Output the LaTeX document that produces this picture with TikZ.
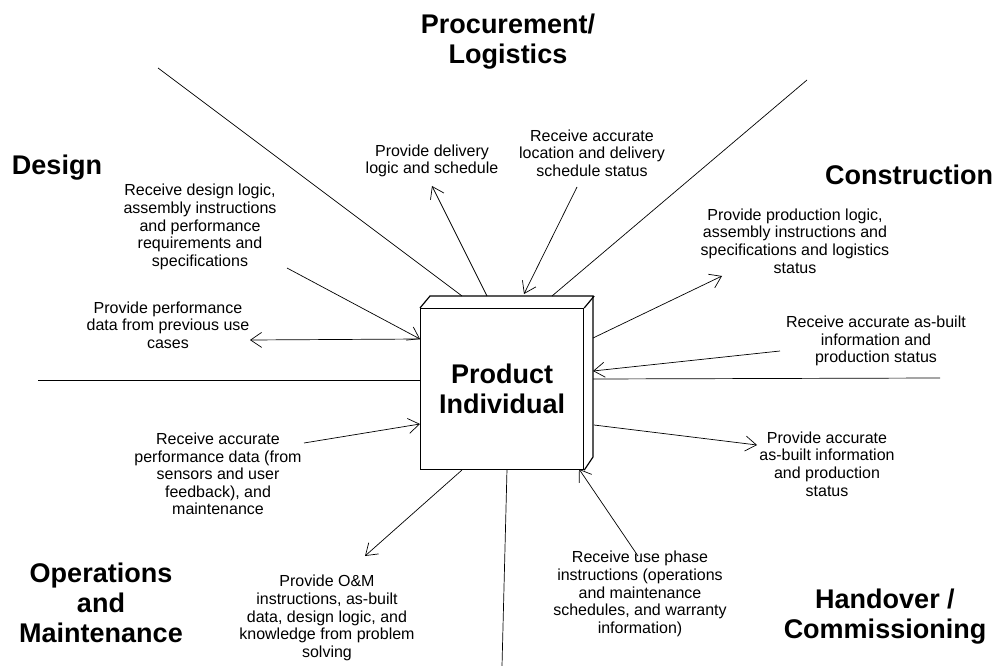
\documentclass[tikz,border=0pt]{standalone}
\usepackage{fontspec}
\setmainfont{Liberation Sans}
\usetikzlibrary{arrows.meta}

\tikzset{
	phase/.style={font=\bfseries\fontsize{27}{30}\selectfont, align=center, inner sep=0pt},
	info/.style={font=\fontsize{16}{17.6}\selectfont, align=center, inner sep=0pt},
	flow/.style={-{Straight Barb[length=11pt,width=15pt]}},
}

\begin{document}
\begin{tikzpicture}[x=1pt, y=-1pt, line width=0.7pt]
	\useasboundingbox (0,0) rectangle (999,666);

	%Trennlinien
	\draw (158,68) -- (462,296);
	\draw (807,80) -- (552,296);
	\draw (38,380) -- (420,380);
	\draw (593,379) -- (940,378);
	\draw (507,469) -- (502,666);

	%Produkt
	\node[phase, draw, line width=1.2pt, fill=white, minimum width=163pt, minimum height=161pt, anchor=north west] (prod) at (420,308) {Product\\Individual};
	\draw[line width=1.2pt] (prod.north west) -- ++(10,-12) -- ++(163,0) -- ++(0,161) -- (prod.south east);
	\draw[line width=1.2pt] (prod.north east) -- ++(10,-12);

	%Phasen
	\node[phase] (proc) at (508,42) {Procurement/\\Logistics};
	\node[phase] (des) at (57,168) {Design};
	\node[phase] (con) at (909,175) {Construction};
	\node[phase] (om) at (101,603) {Operations\\and\\Maintenance};
	\node[phase] (hand) at (885,617) {Handover /\\Commissioning};

	%Beschriftung
	\node[info] (delivery) at (432,161) {Provide delivery\\logic and schedule};
	\node[info] (location) at (592,153) {Receive accurate\\location and delivery\\schedule status};
	\node[info] (deslogic) at (200,227) {Receive design logic,\\assembly instructions\\and performance\\requirements and\\specifications};
	\node[info] (prevuse) at (168,325) {Provide performance\\data from previous use\\cases};
	\node[info] (prodlogic) at (795,241) {Provide production logic,\\assembly instructions and\\specifications and logistics\\status};
	\node[info] (asbuiltin) at (876,341) {Receive accurate as-built\\information and\\production status};
	\node[info] (asbuiltout) at (827,464) {Provide accurate\\as-built information\\and production\\status};
	\node[info] (perfdata) at (218,474) {Receive accurate\\performance data (from\\sensors and user\\feedback), and\\maintenance};
	\node[info] (omdata) at (327,618) {Provide O\&M\\instructions, as-built\\data, design logic, and\\knowledge from problem\\solving};
	\node[info] (usephase) at (640,594) {Receive use phase\\instructions (operations\\and maintenance\\schedules, and warranty\\information)};

	%Endpunkte
	\coordinate (p1) at (487,296);  \coordinate (q1) at (432,186);
	\coordinate (p2) at (524,294);  \coordinate (q2) at (577,187);
	\coordinate (p3) at (593,338);  \coordinate (q3) at (722,276);
	\coordinate (p4) at (593,371);  \coordinate (q4) at (780,351);
	\coordinate (p5) at (594,425);  \coordinate (q5) at (757,445);
	\coordinate (p6) at (579,469);  \coordinate (q6) at (638,556);
	\coordinate (p7) at (462,470);  \coordinate (q7) at (365,556);
	\coordinate (p8) at (420,424);  \coordinate (q8) at (304,443);
	\coordinate (p9) at (420,339);  \coordinate (q9) at (250,340);
	\coordinate (p10) at (420,339); \coordinate (q10) at (287,268);

	%Pfeile
	\draw[flow] (p1) -- (q1);
	\draw[flow] (q2) -- (p2);
	\draw[flow] (p3) -- (q3);
	\draw[flow] (q4) -- (p4);
	\draw[flow] (p5) -- (q5);
	\draw[flow] (q6) -- (p6);
	\draw[flow] (p7) -- (q7);
	\draw[flow] (q8) -- (p8);
	\draw[flow] (p9) -- (q9);
	\draw[flow] (q10) -- (p10);
\end{tikzpicture}
\end{document}
